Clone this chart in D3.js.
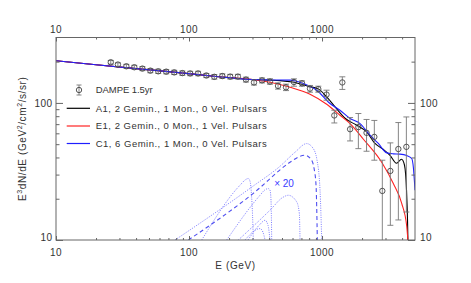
<!DOCTYPE html>
<html><head><meta charset="utf-8">
<script src="https://cdn.jsdelivr.net/npm/d3@7"></script>
<style>
body{margin:0;background:#fff}
svg{display:block}
text{font-family:"Liberation Sans",Arial,sans-serif;fill:#333}
</style>
</head><body>
<svg id="c" width="471" height="283"></svg>
<script>
// ---- DAMPE data (E in GeV, E^3 dN/dE) ----
const energy = [25.8,29.2,33.8,38.8,44.6,51.2,58.7,67.4,77.4,89.1,102,117,135,155,178,204,233,268,308,354,406,467,536,615,707,812,938,1081,1237,1421,1625,1876,2161,2473,2840,3263,3749,4306];
const flux   = [198,190.5,185,182,178,172,170,169,167,165,164,164,158.5,155,157,155.5,155.5,148,141,146,143,133,130,142,139,127,126,115,81,141,64.3,66.6,60.5,56.5,22.8,31.9,46.1,47.8];
const fluxLo = [192,185,179,176,172,166,164,163,161,159,158,158,153,149,151,149.5,149.5,142,135,140,137,126,123,132.4,132.4,119.7,119.7,104.6,71.4,125.4,52.8,46.4,44.4,38.2,8,12.8,14,16];
const fluxHi = [204,196,191,188,184,178,176,175,173,171,170,170,164,161,163,161.5,161.5,154,147,152,150,140,137,149.8,144.8,134,132.4,123.8,88.4,155,78.2,83.7,75.7,74.5,38.2,51.1,71.9,79];

// ---- model curves [E, E^3 dN/dE] ----
const modelA1 = [[10,203],[20,190],[40,178],[80,167],[160,156],[300,148],[400,146.5],[483,145.5],[600,142],[700,137],[800,131.5],[900,128.5],[966,124],[1084,110.6],[1252,93.5],[1489,77.3],[1823,68.7],[2168,61.4],[2501,50.6],[2874,45.9],[3243,41.5],[3631,36.3],[3960,38.8],[4170,35.1],[4318,23.1],[4394,13.9],[4433,9]];
const modelE1 = [[10,203],[20,190],[40,178],[80,167],[160,156],[300,148],[406,141.6],[575,130.2],[812,115.7],[1084,97.8],[1364,81.3],[1625,70.5],[2047,54.3],[2840,36.3],[3436,25.8],[3972,18.5],[4333,12.6],[4454,9]];
const modelC1 = [[10,203],[20,190],[40,178],[80,167],[160,156],[300,148],[400,147],[574,146.5],[723,138.6],[912,123.8],[1148,99],[1364,88.4],[1625,76.9],[1932,70.7],[2296,58.1],[2650,50.6],[3066,43.2],[3436,42.5],[3855,42.3],[4333,41.3],[4722,39.3],[4857,34.1],[5000,23.1]];

// ---- individual pulsar contributions (x20) ----
const pulsarSum = [[98.8,10],[304.5,21.9],[574.6,36.9],[683.4,40.8],[745,41.5],[826.6,38.8],[870.8,33.4],[901.5,25.1],[922,10]];
const pulsar1 = [[78.5,10],[302.9,24.7],[483,34.5],[627,43.7],[767,50.5],[856,46.7],[917,38.2],[966,23.1],[995,10]];
const pulsar2 = [[124.6,10],[241.8,25.1],[268.3,27.7],[279.2,28.1],[287.5,26.8],[295.1,21.2],[300.3,15.2],[304.5,10]];
const pulsar3 = [[192,10],[341.9,21.2],[372.8,23.25],[394.8,23.7],[406.4,23.1],[413.5,19.5],[418.6,10]];
const pulsar4 = [[234.8,10],[406.4,16.5],[509,20.5],[557.9,21.2],[645.3,18.95],[675.2,15.6],[683.4,10]];
const pulsar5 = [[277.7,10],[341.9,13.02],[372.8,13.93],[392.6,12.8],[406.4,10]];
const pulsar6 = [[263.6,10],[341.9,12.11],[360,11.38],[372.8,10]];

const xMajor = [10,100,1000];
const xMinor = [20,30,40,50,60,70,80,90,200,300,400,500,600,700,800,900,2000,3000,4000];
const yMajor = [10,100];
const yMinor = [20,30,40,50,60,70,80,90,200];

const legendLabels = ["DAMPE 1.5yr","A1, 2 Gemin., 1 Mon., 0 Vel. Pulsars","E1, 2 Gemin., 0 Mon., 1 Vel. Pulsars","C1, 6 Gemin., 1 Mon., 0 Vel. Pulsars"];
const legendColors = ["#000000","#ff2222","#1f1fff"];

const svg = d3.select("#c");
svg.append("rect").attr("width",471).attr("height",283).attr("fill","#fff");
const L=56,R=415,T=37.5,B=240;
const x = d3.scaleLog().domain([10,5000]).range([L,R]);
const y = d3.scaleLog().domain([10,300]).range([B,T]);

svg.append("clipPath").attr("id","clip").append("rect").attr("x",L).attr("y",T).attr("width",R-L).attr("height",B-T);
const plot = svg.append("g").attr("clip-path","url(#clip)");

const line = d3.line().x(d=>x(d[0])).y(d=>y(d[1])).curve(d3.curveMonotoneX);

// pulsar curves
[pulsar1,pulsar2,pulsar3,pulsar4,pulsar5,pulsar6].forEach(p=>{
  plot.append("path").attr("d",line(p)).attr("fill","none")
    .attr("stroke","#7e7eff").attr("stroke-width",1).attr("stroke-dasharray","1,1.3");
});
plot.append("path").attr("d",line(pulsarSum)).attr("fill","none")
  .attr("stroke","#4f4ff0").attr("stroke-width",1.1).attr("stroke-dasharray","4,3");
svg.append("text").attr("x",284).attr("y",186.5).attr("text-anchor","middle")
  .style("font-size","10px").style("fill","#3a3aff").text("× 20");

// models
[[modelA1,legendColors[0]],[modelE1,legendColors[1]],[modelC1,legendColors[2]]].forEach(([m,c])=>{
  plot.append("path").attr("d",line(m)).attr("fill","none").attr("stroke",c).attr("stroke-width",1.1);
});

// data
const gd = plot.append("g");
energy.forEach((e,i)=>{
  const cx=x(e), cy=y(flux[i]), y1=y(fluxHi[i]), y0=y(fluxLo[i]);
  gd.append("line").attr("x1",cx).attr("x2",cx).attr("y1",y1).attr("y2",y0).attr("stroke","#777").attr("stroke-width",0.9);
  gd.append("line").attr("x1",cx-3).attr("x2",cx+3).attr("y1",y1).attr("y2",y1).attr("stroke","#777").attr("stroke-width",0.9);
  gd.append("line").attr("x1",cx-3).attr("x2",cx+3).attr("y1",y0).attr("y2",y0).attr("stroke","#777").attr("stroke-width",0.9);
  gd.append("circle").attr("cx",cx).attr("cy",cy).attr("r",2.7).attr("fill","none").attr("stroke","#444").attr("stroke-width",0.9);
});

// axes
const axCol="#666";
function ticks(axisGen, vals, size, tr){
  const g = svg.append("g").attr("transform",tr).call(axisGen.tickValues(vals).tickSize(size).tickFormat(""));
  g.select(".domain").remove();
  g.selectAll("line").attr("stroke",axCol);
}
ticks(d3.axisBottom(x), xMajor, -4, `translate(0,${B})`);
ticks(d3.axisBottom(x), xMinor, -2, `translate(0,${B})`);
ticks(d3.axisTop(x), xMajor, -4, `translate(0,${T})`);
ticks(d3.axisTop(x), xMinor, -2, `translate(0,${T})`);
ticks(d3.axisLeft(y), yMajor, -7, `translate(${L},0)`);
ticks(d3.axisLeft(y), yMinor, -3.5, `translate(${L},0)`);
ticks(d3.axisRight(y), yMajor, -7, `translate(${R},0)`);
ticks(d3.axisRight(y), yMinor, -3.5, `translate(${R},0)`);
svg.append("rect").attr("x",L).attr("y",T).attr("width",R-L).attr("height",B-T)
  .attr("fill","none").attr("stroke",axCol).attr("stroke-width",1);

xMajor.forEach(v=>{
  svg.append("text").attr("x",x(v)).attr("y",255.5).attr("text-anchor","middle").style("font-size","10px").style("letter-spacing","0.4px").text(v);
  svg.append("text").attr("x",x(v)).attr("y",33).attr("text-anchor","middle").style("font-size","10px").style("letter-spacing","0.4px").text(v);
});
yMajor.forEach(v=>{
  const by = y(v) + (v===10 ? 1.2 : 3.6);
  svg.append("text").attr("x",52.5).attr("y",by).attr("text-anchor","end").style("font-size","10px").style("letter-spacing","0.4px").text(v);
  svg.append("text").attr("x",420).attr("y",by).attr("text-anchor","start").style("font-size","10px").style("letter-spacing","0.4px").text(v);
});

// axis titles
svg.append("text").attr("x",(L+R)/2).attr("y",268.5).attr("text-anchor","middle")
  .style("font-size","10px").style("letter-spacing","0.6px").text("E (GeV)");
const yt = svg.append("text").attr("transform",`translate(25.5,${(T+B)/2}) rotate(-90)`).attr("text-anchor","middle")
  .style("font-size","10px").style("letter-spacing","0.6px");
yt.append("tspan").text("E");
yt.append("tspan").attr("dy",-4).style("font-size","7px").text("3");
yt.append("tspan").attr("dy",4).text("dN/dE (GeV");
yt.append("tspan").attr("dy",-4).style("font-size","7px").text("2");
yt.append("tspan").attr("dy",4).text("/cm");
yt.append("tspan").attr("dy",-4).style("font-size","7px").text("2");
yt.append("tspan").attr("dy",4).text("/s/sr)");

// legend
const lg = svg.append("g");
const ly = [90,108.3,126,143.5];
lg.append("line").attr("x1",79).attr("x2",79).attr("y1",85).attr("y2",95).attr("stroke","#777").attr("stroke-width",0.9);
lg.append("line").attr("x1",76.5).attr("x2",81.5).attr("y1",85).attr("y2",85).attr("stroke","#777").attr("stroke-width",0.9);
lg.append("line").attr("x1",76.5).attr("x2",81.5).attr("y1",95).attr("y2",95).attr("stroke","#777").attr("stroke-width",0.9);
lg.append("circle").attr("cx",79).attr("cy",90).attr("r",2.7).attr("fill","none").attr("stroke","#444").attr("stroke-width",0.9);
legendColors.forEach((c,i)=>{
  lg.append("line").attr("x1",66.7).attr("x2",90).attr("y1",ly[i+1]).attr("y2",ly[i+1]).attr("stroke",c).attr("stroke-width",1.2);
});
const lw=[57,171,171,171];
legendLabels.forEach((t,i)=>{
  lg.append("text").attr("x",95.7).attr("y",ly[i]+3.4).style("font-size","9.5px")
    .attr("textLength",lw[i]).attr("lengthAdjust","spacing").text(t);
});
</script>
</body></html>
